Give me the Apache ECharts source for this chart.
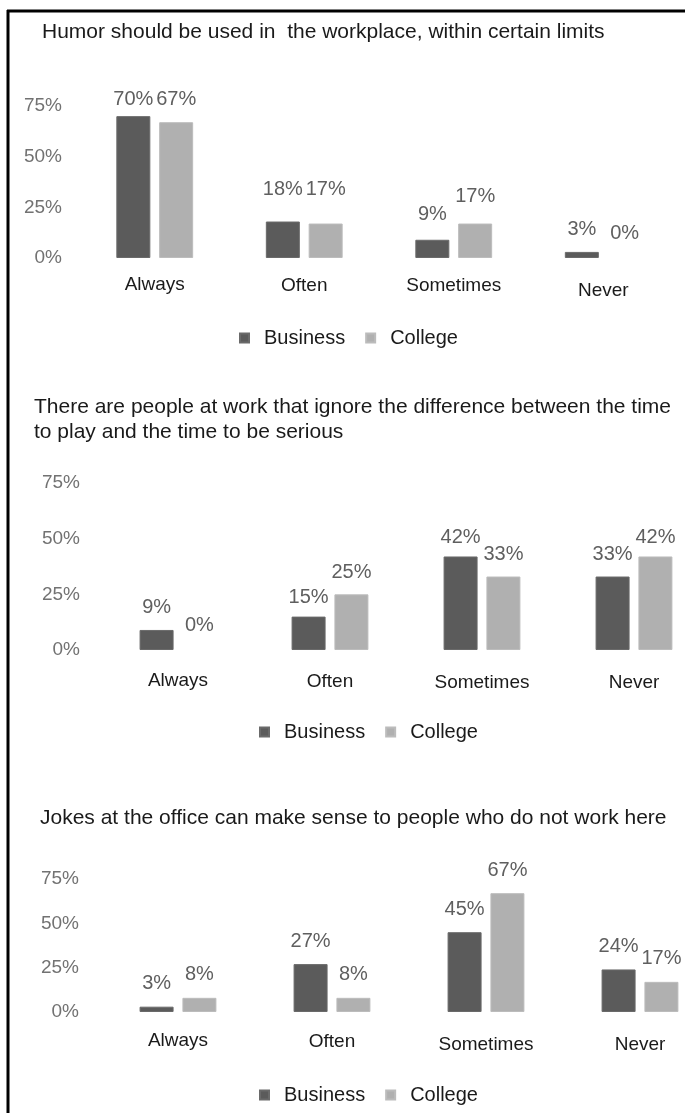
<!DOCTYPE html>
<html>
<head>
<meta charset="utf-8">
<script src="https://cdn.jsdelivr.net/npm/echarts@6/dist/echarts.min.js"></script>
<style>
  html, body { margin: 0; padding: 0; background: #fff; }
  #chart { width: 685px; height: 1113px; }
</style>
</head>
<body>
<div id="chart"></div>
<script>
// Survey answers, shares in percent
const categories = ['Always', 'Often', 'Sometimes', 'Never'];
const seriesNames = ['Business', 'College'];
const yTicks = [0, 25, 50, 75];

const titles = [
  'Humor should be used in  the workplace, within certain limits',
  'There are people at work that ignore the difference between the time\nto play and the time to be serious',
  'Jokes at the office can make sense to people who do not work here'
];

const humorBusiness = [70, 18, 9, 3];
const humorCollege = [67, 17, 17, 0];

const ignoreBusiness = [9, 15, 42, 33];
const ignoreCollege = [0, 25, 33, 42];

const jokesBusiness = [3, 27, 45, 24];
const jokesCollege = [8, 8, 67, 17];

const panels = [
  { business: humorBusiness, college: humorCollege },
  { business: ignoreBusiness, college: ignoreCollege },
  { business: jokesBusiness, college: jokesCollege }
];

// Layout of each panel
const FONT = '"Liberation Sans", Arial, sans-serif';
const layout = [
  { title: { left: 42, top: 20 }, grid: { left: 80, top: 106, width: 598, height: 152 },
    legendTop: 323, legendLeft: 234, labelMargin: 17, yMargin: 18, valueDist: 15,
    catShift: [0, 1, 1, 6],
    // vertical nudges of the value labels [business, college]
    labelNudge: [[8, -7, 0, 3], [2, -9, -2, 0]] },
  { title: { left: 34, top: 395 }, grid: { left: 102, top: 483, width: 608, height: 167 },
    legendTop: 717, legendLeft: 254, labelMargin: 21, yMargin: 22, valueDist: 12,
    catShift: [0, 1, 2, 2],
    labelNudge: [[0, 3, 3, 0], [-3, 0, 0, 3]] },
  { title: { left: 40, top: 806 }, grid: { left: 101, top: 879, width: 616, height: 133 },
    legendTop: 1080, legendLeft: 254, labelMargin: 19, yMargin: 22, valueDist: 13,
    catShift: [0, 1, 4, 4],
    labelNudge: [[0, 0, 0, 0], [0, 0, 0, 0]] }
];

const COLORS = ['#5b5b5b', '#b0b0b0'];
const EDGES = ['#6a6a6a', '#bcbcbc'];

const option = {
  animation: false,
  textStyle: { fontFamily: FONT },
  title: titles.map((t, i) => ({
    text: t,
    left: layout[i].title.left,
    top: layout[i].title.top,
    padding: 0,
    textStyle: { fontFamily: FONT, fontSize: 21, fontWeight: 'normal', color: '#1a1a1a', lineHeight: 25 }
  })),
  legend: layout.map(l => ({
    data: seriesNames,
    left: l.legendLeft,
    top: l.legendTop,
    icon: 'rect',
    itemWidth: 9,
    itemHeight: 9,
    itemGap: 20,
    selectedMode: false,
    textStyle: { fontFamily: FONT, fontSize: 20, color: '#1a1a1a', padding: [0, 0, 0, 10] }
  })),
  grid: layout.map(l => Object.assign({ containLabel: false, outerBoundsMode: 'none' }, l.grid)),
  xAxis: layout.map((l, i) => ({
    type: 'category',
    gridIndex: i,
    data: categories,
    axisLine: { show: false },
    axisTick: { show: false },
    axisLabel: {
      margin: l.labelMargin,
      interval: 0,
      fontFamily: FONT,
      fontSize: 19,
      color: '#1a1a1a',
      // Each category label sits at its own small vertical offset
      formatter: (v, idx) => '{s' + l.catShift[idx] + '|' + v + '}',
      rich: Object.fromEntries([0, 1, 2, 4, 6].map(s => ['s' + s, {
        fontFamily: FONT, fontSize: 19, color: '#1a1a1a', padding: [s, 0, 0, 0]
      }]))
    }
  })),
  yAxis: layout.map((l, i) => ({
    type: 'value',
    gridIndex: i,
    min: yTicks[0],
    max: yTicks[yTicks.length - 1],
    interval: yTicks[1] - yTicks[0],
    splitLine: { show: false },
    axisLine: { show: false },
    axisTick: { show: false },
    axisLabel: { margin: l.yMargin, fontFamily: FONT, fontSize: 19, color: '#727272', formatter: '{value}%' }
  })),
  series: [],
  graphic: [
    { type: 'rect', shape: { x: 0, y: 0, width: 685, height: 1113 }, style: { fill: '#fff' }, z: -10 },
    { type: 'line', shape: { x1: 7, y1: 11, x2: 685, y2: 11 }, style: { stroke: '#000', lineWidth: 3 }, z: 10 },
    { type: 'line', shape: { x1: 8, y1: 10, x2: 8, y2: 1113 }, style: { stroke: '#000', lineWidth: 3 }, z: 10 }
  ]
};

panels.forEach((p, i) => {
  [p.business, p.college].forEach((vals, k) => {
    option.series.push({
      name: seriesNames[k],
      type: 'bar',
      xAxisIndex: i,
      yAxisIndex: i,
      data: vals.map((v, j) => ({
        value: v,
        // a zero share draws no outline
        itemStyle: { borderWidth: v === 0 ? 0 : 1 },
        label: { offset: [0, layout[i].labelNudge[k][j]] }
      })),
      barWidth: 34,
      barGap: '26%',
      itemStyle: { color: COLORS[k], borderColor: EDGES[k], borderWidth: 1 },
      label: {
        show: true,
        position: 'top',
        distance: layout[i].valueDist,
        formatter: '{c}%',
        fontFamily: FONT,
        fontSize: 20,
        color: '#5f5f5f'
      }
    });
  });
});

const chart = echarts.init(document.getElementById('chart'), null, { renderer: 'canvas' });
chart.setOption(option);
</script>
</body>
</html>
